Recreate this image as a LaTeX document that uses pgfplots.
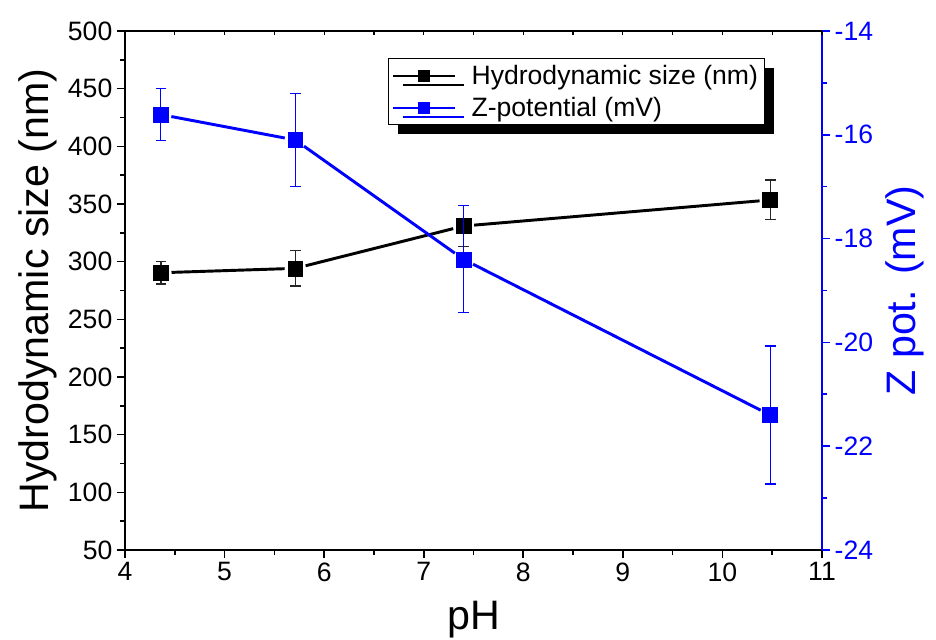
\documentclass[border=0pt]{standalone}
\usepackage{pgfplots}
\pgfplotsset{compat=1.18}
\usepackage{pgfplotstable}
\usepackage{fontspec}
\setmainfont{Liberation Sans}
\usetikzlibrary{shadows}

% Hydrodynamic size (nm) with standard deviation
\pgfplotstableread{
ph    size   err
4.36  290.4  9.7
5.71  294.2  15.4
7.40  330.9  17.9
10.48 353.5  17.2
}\sizedata

% Zeta potential (mV) with standard deviation
\pgfplotstableread{
ph    zeta    err
4.36  -15.61  0.50
5.71  -16.10  0.90
7.40  -18.40  1.03
10.48 -21.40  1.33
}\zetadata

\begin{document}
\begin{tikzpicture}
\pgfplotsset{
  common/.style={
    scale only axis, width=522.75bp, height=389.25bp,
    xmin=4, xmax=11,
    axis line style={-, line width=1.5bp},
    every outer x axis line/.append style={-},
    every outer y axis line/.append style={-},
    tick style={line width=1.2bp},
    major tick length=6bp, minor tick length=3.75bp,
    ticklabel style={font=\fontsize{20}{24}\selectfont},
    /pgf/number format/assume math mode=true,
    label style={font=\fontsize{31}{36}\selectfont},
  },
  % connecting segment between two neighbouring points, stopping short of the markers
  seg/.style n args={2}{line width=2.2bp, mark=none, shorten >=8bp, shorten <=8bp,
    forget plot, restrict expr to domain={\coordindex}{#1:#2}},
}

% left axis: hydrodynamic size
\begin{axis}[common,
  ymin=50, ymax=500,
  axis x line*=bottom, axis y line*=left,
  xtick={4,...,11}, minor x tick num=1,
  ytick={50,100,...,500}, minor y tick num=1,
  tick align=outside,
  tick style={black},
  xlabel={pH}, ylabel={Hydrodynamic size (nm)},
  xlabel style={at={(axis description cs:0.5,-0.135)}, anchor=center},
  ylabel style={at={(axis description cs:-0.125,0.5)}, anchor=center},
]
\addplot[black, seg={0}{1}] table[x=ph, y=size] {\sizedata};
\addplot[black, seg={1}{2}] table[x=ph, y=size] {\sizedata};
\addplot[black, seg={2}{3}] table[x=ph, y=size] {\sizedata};
\addplot[black, only marks, mark=square*, mark size=5.6bp,
  error bars/.cd, y dir=both, y explicit,
  error bar style={line width=1bp, black!85},
  error mark options={rotate=90, black!85, line width=1bp, mark size=4bp}]
  table[x=ph, y=size, y error=err] {\sizedata};
\end{axis}

% right axis: zeta potential
\begin{axis}[common,
  ymin=-24, ymax=-14,
  axis x line=none, axis y line*=right,
  ytick={-24,-22,...,-14}, minor y tick num=1,
  yticklabels={-24,-22,-20,-18,-16,-14},
  tick align=outside,
  y axis line style={blue, line width=1.8bp},
  ytick style={blue},
  yticklabel style={blue},
  ylabel={Z pot. (mV)},
  ylabel style={blue, at={(axis description cs:1.119,0.5)}, anchor=center},
  legend style={at={(axis description cs:0.377,0.948)}, anchor=north west,
    draw=black, line width=0.8bp, fill=white,
    font=\fontsize{20}{24}\selectfont,
    inner xsep=3bp, inner ysep=3bp, row sep=4bp, column sep=10bp,
    drop shadow={shadow xshift=7bp, shadow yshift=-7bp, fill=black, opacity=1}},
  legend cell align=left,
  legend image code/.code={
    \draw[mark repeat=2, mark phase=2] plot coordinates {(0bp,0bp) (23bp,0bp) (46bp,0bp)};},
]
\addlegendimage{black, line width=1.5bp, mark=square*, mark size=3.75bp}
\addlegendentry{Hydrodynamic size (nm)}
\addlegendimage{blue, line width=1.5bp, mark=square*, mark size=3.75bp}
\addlegendentry{Z-potential (mV)}
\addplot[blue, seg={0}{1}] table[x=ph, y=zeta] {\zetadata};
\addplot[blue, seg={1}{2}] table[x=ph, y=zeta] {\zetadata};
\addplot[blue, seg={2}{3}] table[x=ph, y=zeta] {\zetadata};
\addplot[blue, only marks, mark=square*, mark size=5.6bp, forget plot,
  error bars/.cd, y dir=both, y explicit,
  error bar style={line width=0.9bp, blue},
  error mark options={rotate=90, blue, line width=0.9bp, mark size=4bp}]
  table[x=ph, y=zeta, y error=err] {\zetadata};
\end{axis}

% top frame line with inward ticks
\begin{axis}[common,
  ymin=0, ymax=1,
  axis x line*=top, axis y line=none,
  xtick={4,...,11}, minor x tick num=1, xticklabels={},
  tick align=inside, tick style={black, line width=0.9bp},
  major tick length=3bp, minor tick length=3bp,
]
\end{axis}

\pgfresetboundingbox
\path[use as bounding box] (-93.75bp,-67.5bp) rectangle (608.25bp,412.5bp);
\end{tikzpicture}
\end{document}
